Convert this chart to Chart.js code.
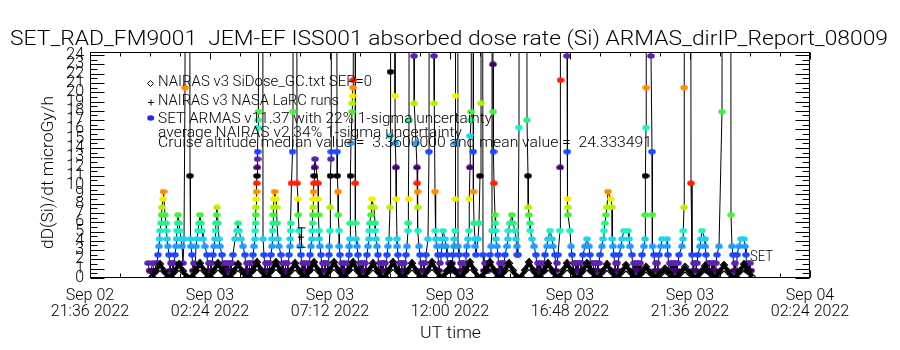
<!DOCTYPE html>
<html>
<head>
  <meta charset="UTF-8">
  <title>SET_RAD_FM9001 JEM-EF ISS001 absorbed dose rate</title>
  <script src="https://cdn.jsdelivr.net/npm/chart.js"></script>
  <style>
    html, body { margin: 0; padding: 0; background: #fff; }
    canvas { display: block; }
  </style>
</head>
<body>
  <canvas id="doseChart" width="900" height="350"></canvas>

  <script>
    // x axis is hours after Sep 02 21:36 UT
    const xTickHours = [0, 4.8, 9.6, 14.4, 19.2, 24.0, 28.8];
    const xTickLabels = [
      ['Sep 02', '21:36 2022'], ['Sep 03', '02:24 2022'], ['Sep 03', '07:12 2022'],
      ['Sep 03', '12:00 2022'], ['Sep 03', '16:48 2022'], ['Sep 03', '21:36 2022'],
      ['Sep 04', '02:24 2022']
    ];
    const yTickValues = [0, 1, 2, 3, 4, 5, 6, 7, 8, 9, 10, 11, 12, 13, 14, 15, 16, 17, 18, 19, 20, 21, 22, 23, 24];

    // SET ARMAS dose rate (microGy/h) during the passes, 150 = spike off the top
    const armasTime = [
      2.32, 2.44, 2.56, 2.64, 2.72, 2.76, 2.78, 2.80, 2.84, 2.86, 2.88, 2.92, 2.94, 3.00, 3.04, 3.06, 3.08, 3.12, 3.16, 3.24, 3.32,
      3.36, 3.40, 3.44, 3.46, 3.48, 3.50, 3.52, 3.56, 3.60, 3.64, 3.68, 3.76, 3.80, 3.84, 3.96, 4.00, 4.02, 4.04, 4.08, 4.16,
      4.24, 4.28, 4.32, 4.36, 4.40, 4.44, 4.48, 4.52, 4.60, 4.68, 4.76,
      4.84, 4.92, 4.96, 5.00, 5.02, 5.04, 5.06, 5.08, 5.12, 5.16, 5.20, 5.28, 5.36, 5.48,
      5.60, 5.72, 5.80, 5.88, 5.92, 5.96, 6.04, 6.12, 6.20, 6.28,
      6.36, 6.44, 6.52, 6.56, 6.60, 6.61, 6.62, 6.63, 6.64, 6.65, 6.66, 6.67, 6.68, 6.69, 6.70, 6.71, 6.72, 6.73, 6.74, 6.84, 6.88, 6.92, 6.96, 7.04, 7.12,
      7.20, 7.24, 7.28, 7.29, 7.30, 7.32, 7.33, 7.34, 7.36, 7.38, 7.44, 7.46, 7.48, 7.52, 7.56, 7.64, 7.72, 7.80,
      7.88, 7.96, 8.00, 8.01, 8.02, 8.03, 8.06, 8.10, 8.12, 8.16, 8.24, 8.28, 8.32, 8.33, 8.36, 8.40, 8.44, 8.52, 8.64,
      8.72, 8.80, 8.84, 8.88, 8.89, 8.90, 8.91, 8.92, 8.93, 8.94, 8.96, 8.97, 8.98, 9.00, 9.12, 9.13, 9.14, 9.16, 9.17, 9.20, 9.24, 9.32, 9.40,
      9.48, 9.56, 9.57, 9.60, 9.61, 9.62, 9.64, 9.65, 9.68, 9.84, 9.88, 9.89, 9.92, 9.93, 9.96, 9.97, 10.00, 10.08,
      10.20, 10.28, 10.36, 10.37, 10.40, 10.41, 10.42, 10.44, 10.48, 10.49, 10.50, 10.52, 10.53, 10.56, 10.60, 10.61, 10.62, 10.64, 10.68, 10.72, 10.80, 10.92,
      11.00, 11.08, 11.12, 11.16, 11.17, 11.20, 11.24, 11.25, 11.28, 11.36, 11.40, 11.41, 11.44, 11.48, 11.52, 11.60, 11.72,
      11.80, 11.88, 11.92, 11.96, 12.00, 12.01, 12.02, 12.04, 12.16, 12.20, 12.21, 12.24, 12.25, 12.28, 12.29, 12.32, 12.40, 12.48,
      12.56, 12.64, 12.68, 12.72, 12.73, 12.74, 12.76, 12.80, 12.92, 12.96, 12.97, 13.04, 13.08, 13.09, 13.10, 13.11, 13.12, 13.16, 13.20, 13.28,
      13.36, 13.44, 13.52, 13.56, 13.60, 13.72, 13.76, 13.77, 13.80, 13.81, 13.84, 13.88, 13.92,
      14.00, 14.04, 14.08, 14.09, 14.12, 14.20, 14.24, 14.28, 14.36,
      14.44, 14.52, 14.56, 14.57, 14.60, 14.61, 14.62, 14.63, 14.64, 14.68, 14.72, 14.76, 14.84, 14.92,
      14.96, 15.04, 15.08, 15.12, 15.16, 15.17, 15.20, 15.21, 15.24, 15.25, 15.28, 15.32, 15.33, 15.34, 15.36, 15.40, 15.41, 15.44, 15.52, 15.56, 15.60, 15.64, 15.65, 15.68, 15.72, 15.80, 15.92,
      15.96, 16.00, 16.04, 16.08, 16.09, 16.11, 16.12, 16.13, 16.14, 16.16, 16.20, 16.21, 16.22, 16.24, 16.28, 16.32, 16.40, 16.52,
      16.56, 16.60, 16.68, 16.72, 16.73, 16.80, 16.88, 16.92, 17.00, 17.04, 17.08, 17.09,
      17.12, 17.16, 17.20, 17.44, 17.48, 17.52, 17.53, 17.56, 17.60, 17.61, 17.68, 17.76, 17.84, 17.92, 18.04,
      18.12, 18.20, 18.28, 18.32, 18.40, 18.48, 18.52, 18.60,
      18.68, 18.72, 18.80, 18.81, 18.82, 18.84, 19.04, 19.08, 19.09, 19.10, 19.11, 19.12, 19.20, 19.24, 19.28, 19.40, 19.52,
      19.60, 19.72, 19.80, 19.88, 19.96, 20.00, 20.12, 20.20,
      20.28, 20.40, 20.48, 20.52, 20.56, 20.60, 20.64, 20.68, 20.72, 20.84, 20.88, 20.89, 20.92, 20.96, 21.04,
      21.12, 21.16, 21.24, 21.28, 21.36, 21.52, 21.56, 21.60, 21.68, 21.76,
      21.88, 22.00, 22.08, 22.16, 22.20, 22.21, 22.22, 22.24, 22.25, 22.28, 22.40, 22.44, 22.48, 22.49, 22.50, 22.56, 22.64,
      22.72, 22.76, 22.84, 22.88, 23.08, 23.09, 23.12, 23.20,
      23.32, 23.44, 23.56, 23.68, 23.72, 23.73, 23.76, 23.77, 23.80, 24.00, 24.04, 24.08, 24.16,
      24.24, 24.32, 24.40, 24.44, 24.48, 24.60, 24.61, 24.64, 24.76,
      24.84, 24.96, 25.08, 25.16, 25.28, 25.32, 25.60, 25.64, 25.68, 25.72, 25.80,
      25.88, 25.96, 26.04, 26.16, 26.20, 26.24, 26.32, 26.44
    ];
    const armasDose = [
      1.6, 0.8, 0.8, 1.6, 2.5, 3.4, 4.2, 5.1, 5.9, 6.8, 7.6, 8.5, 9.3, 6.8, 5.9, 5.1, 4.2, 3.4, 2.5, 1.6, 0.8,
      1.6, 2.5, 3.4, 4.2, 5.1, 5.9, 6.8, 5.9, 5.1, 4.2, 3.4, 4.2, 20.5, 150, 150, 11.0, 4.2, 3.4, 2.5, 1.6,
      3.4, 4.2, 5.1, 5.9, 6.8, 5.9, 5.1, 4.2, 3.4, 2.5, 1.6,
      0.8, 2.5, 3.4, 4.2, 5.1, 5.9, 6.8, 7.6, 5.9, 4.2, 3.4, 2.5, 1.6, 0.8,
      1.6, 2.5, 4.2, 5.1, 5.9, 5.1, 4.2, 3.4, 2.5, 1.6,
      0.8, 1.6, 2.5, 3.4, 4.2, 5.1, 5.9, 6.8, 7.6, 8.5, 9.3, 10.2, 11.0, 11.9, 12.8, 13.6, 16.2, 17.0, 17.9, 150, 150, 4.2, 2.5, 1.6, 0.8,
      1.6, 2.5, 3.4, 4.2, 5.1, 5.9, 6.8, 7.6, 8.5, 9.3, 8.5, 7.6, 5.9, 4.2, 3.4, 2.5, 1.6, 0.8,
      1.6, 2.5, 3.4, 4.2, 5.1, 5.9, 10.2, 13.6, 17.9, 150, 150, 10.2, 8.5, 6.8, 5.1, 3.4, 2.5, 1.6, 0.8,
      1.6, 2.5, 3.4, 4.2, 5.1, 5.9, 6.8, 7.6, 8.5, 9.3, 10.2, 11.0, 11.9, 12.8, 10.2, 8.5, 6.8, 5.1, 4.2, 3.4, 2.5, 1.6, 0.8,
      1.6, 2.5, 3.4, 5.1, 7.6, 11.0, 12.8, 13.6, 150, 150, 13.6, 11.0, 9.3, 6.8, 5.1, 3.4, 2.5, 1.6,
      0.8, 1.6, 2.5, 3.4, 4.2, 5.9, 11.0, 14.5, 17.9, 18.8, 19.6, 20.5, 21.3, 150, 150, 10.2, 5.9, 4.2, 3.4, 2.5, 1.6, 0.8,
      1.6, 2.5, 3.4, 4.2, 5.1, 5.9, 6.8, 7.6, 8.5, 7.6, 5.9, 5.1, 4.2, 3.4, 2.5, 1.6, 0.8,
      1.6, 2.5, 3.4, 4.2, 7.6, 15.3, 22.2, 150, 150, 19.6, 14.5, 11.9, 8.5, 4.2, 3.4, 2.5, 1.6, 0.8,
      1.6, 2.5, 3.4, 5.1, 5.9, 8.5, 17.0, 150, 150, 23.9, 18.8, 14.5, 11.9, 10.2, 9.3, 7.6, 5.1, 3.4, 2.5, 1.6,
      0.8, 2.5, 4.2, 13.6, 150, 150, 23.9, 18.8, 9.3, 5.1, 4.2, 3.4, 2.5,
      1.6, 2.5, 3.4, 4.2, 5.1, 4.2, 3.4, 2.5, 1.6,
      0.8, 2.5, 3.4, 4.2, 5.1, 8.5, 14.5, 19.6, 150, 150, 3.4, 2.5, 1.6, 0.8,
      1.6, 2.5, 3.4, 4.2, 5.1, 8.5, 11.9, 15.3, 17.0, 17.9, 150, 150, 13.6, 9.3, 5.9, 4.2, 3.4, 2.5, 4.2, 5.9, 11.0, 18.8, 150, 150, 2.5, 1.6, 0.8,
      1.6, 2.5, 3.4, 5.1, 150, 150, 23.0, 17.9, 13.6, 10.2, 6.8, 5.9, 5.1, 4.2, 3.4, 2.5, 1.6, 0.8,
      1.6, 2.5, 3.4, 4.2, 5.1, 5.9, 6.8, 5.9, 5.1, 4.2, 3.4, 2.5,
      2.5, 16.2, 150, 150, 17.0, 11.0, 7.6, 6.8, 5.9, 5.1, 4.2, 3.4, 2.5, 1.6, 0.8,
      1.6, 2.5, 3.4, 4.2, 5.1, 4.2, 3.4, 2.5,
      1.6, 2.5, 5.1, 11.9, 21.3, 150, 150, 23.9, 13.6, 8.5, 7.6, 6.8, 5.1, 3.4, 2.5, 1.6, 0.8,
      1.6, 2.5, 3.4, 4.2, 3.4, 2.5, 1.6, 0.8,
      1.6, 2.5, 3.4, 4.2, 5.1, 5.9, 6.8, 7.6, 9.3, 8.5, 7.6, 4.2, 3.4, 2.5, 1.6,
      0.8, 2.5, 3.4, 4.2, 5.1, 5.1, 4.2, 3.4, 2.5, 1.6,
      0.8, 1.6, 2.5, 3.4, 4.2, 6.8, 11.0, 16.2, 20.5, 150, 150, 23.9, 13.6, 6.8, 3.4, 2.5, 1.6,
      0.8, 2.5, 3.4, 4.2, 4.2, 3.4, 2.5, 1.6,
      0.8, 1.6, 2.5, 3.4, 4.2, 5.1, 7.6, 20.5, 150, 150, 10.2, 2.5, 1.6,
      0.8, 2.5, 3.4, 4.2, 5.1, 4.2, 3.4, 2.5, 1.6,
      0.8, 1.6, 2.5, 3.4, 17.9, 150, 150, 6.8, 3.4, 2.5, 1.6,
      2.5, 3.4, 4.2, 4.2, 3.4, 2.5, 1.6, 0.8
    ];

    // SET ARMAS readings between the passes (the low purple band)
    const armasQuietTime = [
      2.38, 2.50, 2.60, 2.68, 3.20, 3.28, 3.72, 4.12, 4.20, 4.72, 4.80, 4.88,
      5.32, 5.40, 5.44, 5.52, 5.56, 5.64, 5.68, 6.24, 6.32, 6.40, 6.48, 7.00, 7.08, 7.16,
      7.68, 7.76, 7.84, 7.92, 8.48, 8.56, 8.60, 8.68, 8.76, 9.28, 9.36, 9.44, 9.52,
      10.04, 10.12, 10.16, 10.24, 10.32, 10.76, 10.84, 10.88, 10.96, 11.04,
      11.56, 11.64, 11.68, 11.76, 11.84, 12.36, 12.44, 12.52, 12.60, 13.24, 13.32, 13.40, 13.96,
      14.32, 14.40, 14.48, 14.80, 14.88, 15.00, 15.76, 15.84, 15.88, 16.36, 16.44, 16.48,
      17.88, 17.96, 18.00, 18.08, 18.16, 18.64, 19.32, 19.36, 19.44, 19.48, 19.56, 19.64, 19.68,
      20.04, 20.08, 20.16, 20.24, 20.32, 20.36, 21.00, 21.08, 21.72, 21.80, 21.84, 21.92, 21.96, 22.04,
      22.60, 22.68, 23.16, 23.24, 23.28, 23.36, 23.40, 23.48, 23.52, 24.12, 24.20, 24.28,
      24.68, 24.72, 24.80, 24.88, 24.92, 25.00, 25.04, 25.76, 25.84, 26.28, 26.36, 26.40
    ];
    const armasQuietDose = [
      0.8, 1.6, 0.8, 1.6, 0.8, 1.6, 1.6, 0.8, 0.8, 0.8, 1.6, 1.6,
      0.8, 0.8, 1.6, 1.6, 0.8, 0.8, 1.6, 0.8, 0.8, 1.6, 0.8, 0.8, 1.6, 0.8,
      0.8, 0.8, 1.6, 0.8, 0.8, 0.8, 1.6, 0.8, 0.8, 0.8, 1.6, 1.6, 0.8,
      0.8, 0.8, 1.6, 0.8, 0.8, 0.8, 0.8, 1.6, 1.6, 0.8,
      0.8, 0.8, 1.6, 1.6, 0.8, 0.8, 1.6, 1.6, 0.8, 0.8, 1.6, 1.6, 0.8,
      0.8, 1.6, 1.6, 0.8, 1.6, 0.8, 0.8, 0.8, 1.6, 0.8, 0.8, 1.6,
      0.8, 0.8, 1.6, 0.8, 0.8, 0.8, 0.8, 1.6, 0.8, 1.6, 1.6, 0.8, 1.6,
      0.8, 1.6, 0.8, 1.6, 0.8, 1.6, 0.8, 1.6, 0.8, 0.8, 1.6, 1.6, 0.8, 0.8,
      0.8, 1.6, 0.8, 0.8, 1.6, 1.6, 0.8, 0.8, 1.6, 0.8, 1.6, 1.6,
      0.8, 1.6, 0.8, 1.6, 0.8, 0.8, 1.6, 0.8, 0.8, 0.8, 0.8, 1.6
    ];

    // NAIRAS v3 SiDose_GC.txt, one hump per high latitude pass
    const nairasTime = [
      2.48, 2.64, 2.80, 2.96, 3.12,  3.24, 3.40, 3.56, 3.72, 3.88,  4.08, 4.24, 4.40, 4.56, 4.72,
      4.80, 4.96, 5.12, 5.28, 5.44,  5.60, 5.76, 5.92, 6.08, 6.24,  6.36, 6.52, 6.68, 6.84, 7.00,
      7.12, 7.28, 7.44, 7.60, 7.76,  7.88, 8.04, 8.20, 8.36, 8.52,  8.64, 8.80, 8.96, 9.12, 9.28,
      9.44, 9.60, 9.76, 9.92, 10.08,  10.20, 10.36, 10.52, 10.68, 10.84,  11.00, 11.16, 11.32, 11.48, 11.64,
      11.80, 11.96, 12.12, 12.28, 12.44,  12.56, 12.72, 12.88, 13.04, 13.20,  13.36, 13.52, 13.68, 13.84, 14.00,
      14.12, 14.28, 14.44, 14.60, 14.76,  14.88, 15.04, 15.20, 15.36, 15.52,  15.68, 15.84, 16.00, 16.16, 16.32,
      16.44, 16.60, 16.76, 16.92, 17.08,  17.24, 17.40, 17.56, 17.72, 17.88,  18.00, 18.16, 18.32, 18.48, 18.64,
      18.76, 18.92, 19.08, 19.24, 19.40,  19.56, 19.72, 19.88, 20.04, 20.20,  20.36, 20.52, 20.68, 20.84, 21.00,
      21.12, 21.28, 21.44, 21.60, 21.76,  21.92, 22.08, 22.24, 22.40, 22.56,  22.68, 22.84, 23.00, 23.16, 23.32,
      23.48, 23.64, 23.80, 23.96, 24.12,  24.28, 24.44, 24.60, 24.76, 24.92,  25.04, 25.20, 25.36, 25.52, 25.68,
      25.84, 26.00, 26.16, 26.32, 26.48
    ];
    const nairasDose = [
      0.1, 0.75, 1.5, 0.75, 0.1,  0.1, 0.75, 1.5, 0.75, 0.1,  0.1, 0.8, 1.6, 0.8, 0.1,
      0.1, 0.8, 1.6, 0.8, 0.1,  0.1, 0.75, 1.5, 0.75, 0.1,  0.1, 0.85, 1.7, 0.85, 0.1,
      0.1, 0.85, 1.7, 0.85, 0.1,  0.1, 0.8, 1.6, 0.8, 0.1,  0.1, 0.85, 1.7, 0.85, 0.1,
      0.1, 0.85, 1.7, 0.85, 0.1,  0.1, 0.85, 1.7, 0.85, 0.1,  0.1, 0.8, 1.6, 0.8, 0.1,
      0.1, 0.85, 1.7, 0.85, 0.1,  0.1, 0.8, 1.6, 0.8, 0.1,  0.1, 0.85, 1.7, 0.85, 0.1,
      0.1, 0.75, 1.5, 0.75, 0.1,  0.1, 0.85, 1.7, 0.85, 0.1,  0.1, 0.85, 1.7, 0.85, 0.1,
      0.1, 0.8, 1.6, 0.8, 0.1,  0.1, 0.85, 1.7, 0.85, 0.1,  0.1, 0.8, 1.6, 0.8, 0.1,
      0.1, 0.8, 1.6, 0.8, 0.1,  0.1, 0.8, 1.6, 0.8, 0.1,  0.1, 0.75, 1.5, 0.75, 0.1,
      0.1, 0.7, 1.4, 0.7, 0.1,  0.1, 0.6, 1.2, 0.6, 0.1,  0.1, 0.5, 1.0, 0.5, 0.1,
      0.1, 0.6, 1.2, 0.6, 0.1,  0.1, 0.65, 1.3, 0.65, 0.1,  0.1, 0.7, 1.4, 0.7, 0.1,
      0.1, 0.75, 1.5, 0.75, 0.1
    ];

    // NAIRAS v3 NASA LaRC runs with 1-sigma bars
    const larcTime = [8.44];
    const larcDose = [4.4];
    const larcLow = [3.3];
    const larcHigh = [5.4];

    // IDL colour table, repeats every 13 dose levels
    const levelColors = ['#46006e', '#5a23b4', '#1e46ff', '#1e9cff', '#1ed2f0', '#1ef0c8', '#28f08c',
                         '#46f03c', '#b4f000', '#f0f000', '#ff8c00', '#ff1e00', '#000000'];
    function doseColor(v) {
      const lev = Math.max(0, Math.round((v - 0.8) / 0.855));
      return levelColors[lev % levelColors.length];
    }
    // flat IDL-like symbol, a little wider than tall
    const markers = {};
    function markerFor(color) {
      if (!markers[color]) {
        const c = document.createElement('canvas');
        c.width = 8; c.height = 6;
        const g = c.getContext('2d');
        g.fillStyle = color;
        g.beginPath();
        g.ellipse(4, 3, 3.8, 2.8, 0, 0, Math.PI * 2);
        g.fill();
        markers[color] = c;
      }
      return markers[color];
    }

    // one time-ordered ARMAS series
    const armasPoints = armasTime.map((t, i) => ({ x: t, y: armasDose[i] }))
      .concat(armasQuietTime.map((t, i) => ({ x: t, y: armasQuietDose[i] })))
      .sort((a, b) => a.x - b.x);

    const FONT = 'Roboto';
    function fitText(ctx, text, x, y, width, size, angle) {
      ctx.save();
      ctx.font = '300 ' + size + 'px ' + FONT;
      ctx.textBaseline = 'alphabetic';
      ctx.textAlign = 'left';
      const w = ctx.measureText(text).width;
      ctx.translate(x, y);
      if (angle) ctx.rotate(angle);
      ctx.scale(width / w, 1);
      ctx.fillText(text, 0, 0);
      ctx.restore();
    }

    const idlFrame = {
      id: 'idlFrame',
      afterDatasetsDraw(chart) {
        const { ctx, scales: { x, y } } = chart;
        ctx.save();
        ctx.strokeStyle = '#000';
        ctx.lineWidth = 1;
        larcTime.forEach((t, i) => {
          const px = Math.round(x.getPixelForValue(t)) + 0.5;
          const top = y.getPixelForValue(larcHigh[i]);
          const bot = y.getPixelForValue(larcLow[i]);
          ctx.beginPath();
          ctx.moveTo(px, top); ctx.lineTo(px, bot);
          ctx.moveTo(px - 4, top); ctx.lineTo(px + 4, top);
          ctx.moveTo(px - 4, bot); ctx.lineTo(px + 4, bot);
          ctx.stroke();
        });
        ctx.restore();
      },
      afterDraw(chart) {
        const { ctx, chartArea: a, scales: { x, y } } = chart;
        ctx.save();
        ctx.strokeStyle = '#000';
        ctx.fillStyle = '#000';
        ctx.lineWidth = 1;
        const L = a.left + 0.5, R = a.right - 0.5, T = a.top + 0.5, B = a.bottom - 0.5;
        ctx.strokeRect(L, T, R - L, B - T);

        // inward ticks, IDL style
        ctx.beginPath();
        yTickValues.forEach(v => {
          const py = Math.round(y.getPixelForValue(v)) + 0.5;
          ctx.moveTo(L, py); ctx.lineTo(L + 14, py);
          ctx.moveTo(R, py); ctx.lineTo(R - 14, py);
          const pm = Math.round(y.getPixelForValue(v + 0.5)) + 0.5;
          if (v + 0.5 < y.max) {
            ctx.moveTo(L, pm); ctx.lineTo(L + 7, pm);
            ctx.moveTo(R, pm); ctx.lineTo(R - 7, pm);
          }
        });
        for (let h = 0; h <= 28.8 + 1e-6; h += 1.2) {
          const major = xTickHours.some(t => Math.abs(t - h) < 1e-6);
          const len = major ? 7 : 4;
          const px = Math.round(x.getPixelForValue(h)) + 0.5;
          ctx.moveTo(px, B); ctx.lineTo(px, B - len);
          ctx.moveTo(px, T); ctx.lineTo(px, T + len);
        }
        ctx.stroke();

        // titles
        fitText(ctx, 'SET_RAD_FM9001  JEM-EF ISS001 absorbed dose rate (Si) ARMAS_dirIP_Report_08009', 10, 45, 878, 20);
        fitText(ctx, 'UT time', 420, 338, 61, 16);
        fitText(ctx, 'dD(Si)/dt microGy/h', 53, 249, 153, 17, -Math.PI / 2);

        // legend
        ctx.beginPath();
        ctx.moveTo(150.5, 80.5); ctx.lineTo(153.5, 83.5); ctx.lineTo(150.5, 86.5); ctx.lineTo(147.5, 83.5); ctx.closePath();
        ctx.moveTo(148, 102.5); ctx.lineTo(154, 102.5);
        ctx.moveTo(151, 99.5); ctx.lineTo(151, 105.5);
        ctx.stroke();
        ctx.fillStyle = '#1e2cf0';
        ctx.beginPath();
        ctx.ellipse(150.7, 118, 3.5, 2.7, 0, 0, Math.PI * 2);
        ctx.fill();
        ctx.fillStyle = '#000';
        fitText(ctx, 'NAIRAS v3 SiDose_GC.txt SEP=0', 158, 86, 214, 15);
        fitText(ctx, 'NAIRAS v3 NASA LaRC runs', 158, 105, 181, 15);
        fitText(ctx, 'SET ARMAS v11.37 with 22% 1-sigma uncertainty', 158, 123, 334, 15);
        fitText(ctx, 'average NAIRAS v2 34% 1-sigma uncertainty', 158, 137, 304, 14);
        fitText(ctx, 'Cruise altitude median value =  3.3600000 and mean value =  24.333491', 158, 147, 494, 14);
        fitText(ctx, 'SET', 750, 261, 23, 14);
        ctx.restore();
      }
    };

    const ctx = document.getElementById('doseChart').getContext('2d');
    const doseChart = new Chart(ctx, {
      type: 'scatter',
      data: {
        datasets: [
          {
            label: 'NAIRAS v3 SiDose_GC.txt SEP=0',
            data: nairasTime.map((t, i) => ({ x: t, y: nairasDose[i] })),
            showLine: true,
            borderColor: '#000',
            borderWidth: 4,
            pointStyle: 'rectRot',
            pointRadius: 3.5,
            pointBorderColor: '#000',
            pointBorderWidth: 1.2,
            pointBackgroundColor: 'rgba(0,0,0,0)',
            order: 0
          },
          {
            label: 'NAIRAS v3 NASA LaRC runs',
            data: larcTime.map((t, i) => ({ x: t, y: larcDose[i] })),
            pointStyle: 'cross',
            pointRadius: 3,
            borderColor: '#000',
            pointBorderWidth: 1,
            order: 1
          },
          {
            label: 'SET ARMAS v11.37',
            data: armasPoints,
            showLine: true,
            borderColor: '#000',
            borderWidth: 1,
            tension: 0,
            pointRadius: 3.5,
            pointStyle: c => markerFor(doseColor(c.raw.y)),
            order: 2
          }
        ]
      },
      options: {
        responsive: false,
        animation: false,
        layout: { padding: { top: 52, right: 90, bottom: 0, left: 0 } },
        scales: {
          x: {
            type: 'linear',
            min: 0,
            max: 28.8,
            grid: { display: false, drawTicks: false },
            border: { display: false },
            afterBuildTicks: s => { s.ticks = xTickHours.map(v => ({ value: v })); },
            afterFit: s => { s.height = 72; },
            ticks: {
              autoSkip: false,
              maxRotation: 0,
              minRotation: 0,
              padding: 10,
              color: '#000',
              font: { family: FONT, weight: '300', size: 16, lineHeight: 1 },
              callback: v => xTickLabels[xTickHours.indexOf(v)]
            }
          },
          y: {
            type: 'linear',
            min: 0,
            max: 24.33,
            grid: { display: false, drawTicks: false },
            border: { display: false },
            afterBuildTicks: s => { s.ticks = yTickValues.map(v => ({ value: v })); },
            afterFit: s => { s.width = 90; },
            ticks: {
              autoSkip: false,
              padding: 6,
              color: '#000',
              font: { family: FONT, weight: '300', size: 16 },
              callback: v => String(v)
            }
          }
        },
        plugins: {
          legend: { display: false },
          tooltip: { enabled: false }
        }
      },
      plugins: [idlFrame]
    });
  </script>
</body>
</html>
